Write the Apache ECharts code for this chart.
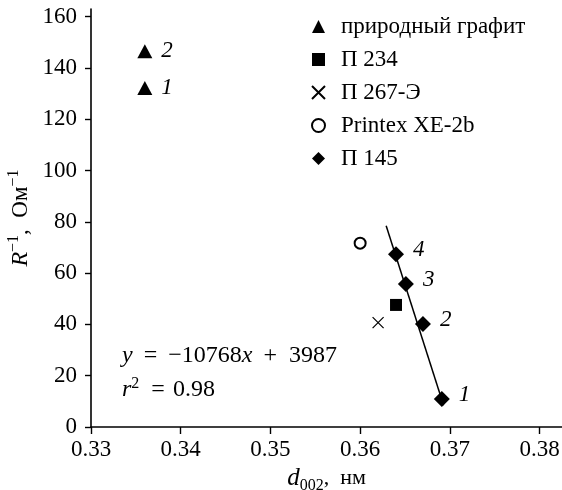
<!DOCTYPE html>
<html>
<head>
<meta charset="utf-8">
<script src="https://cdn.jsdelivr.net/npm/echarts@6/dist/echarts.min.js"></script>
<style>html,body{margin:0;padding:0;background:#fff;}#c{width:562px;height:490px;}</style>
</head>
<body>
<div id="c"></div>
<script>
const xTicks = [0.33, 0.34, 0.35, 0.36, 0.37, 0.38];
const yTicks = [0, 20, 40, 60, 80, 100, 120, 140, 160];

const graphiteX = [0.336, 0.336];
const graphiteY = [146.5, 132.2];
const graphiteLabels = ['2', '1'];

const p234X = [0.364];
const p234Y = [47.6];

const p267X = [0.362];
const p267Y = [40.7];

const printexX = [0.360];
const printexY = [71.7];

const p145X = [0.3691, 0.3670, 0.3651, 0.3640];
const p145Y = [10.9, 40.2, 55.8, 67.4];
const p145Labels = ['1', '2', '3', '4'];

const fitX = [0.3629, 0.3693];
const fitY = [78.5, 8.5];

const seriesNames = ['природный графит', 'П 234', 'П 267-Э', 'Printex XE-2b', 'П 145'];

const FONT = 'Liberation Serif';
const INK = '#000';

function pts(xs, ys) { return xs.map((x, i) => [x, ys[i]]); }

const chart = echarts.init(document.getElementById('c'), null, {renderer: 'canvas'});

const crossPath = 'path://M0,0L10,10M10,0L0,10';

const option = {
  backgroundColor: '#fff',
  animation: false,
  textStyle: {fontFamily: FONT, color: INK},
  grid: {left: 91, right: 0, top: 9, bottom: 63, containLabel: false, outerBoundsMode: 'none'},
  legend: {
    orient: 'vertical',
    left: 306,
    top: 10,
    itemWidth: 13,
    itemHeight: 13,
    itemGap: 10,
    textStyle: {fontFamily: FONT, fontSize: 23, color: INK, lineHeight: 22, padding: [0, 0, 0, 11]},
    data: seriesNames
  },
  xAxis: {
    type: 'value',
    min: 0.33,
    max: 0.3825,
    interval: 0.01,
    splitLine: {show: false},
    axisLine: {lineStyle: {color: INK, width: 1.6}},
    axisTick: {show: true, length: 7, inside: false, customValues: xTicks, lineStyle: {color: INK, width: 1.4}},
    axisLabel: {customValues: xTicks, fontFamily: FONT, fontSize: 23, color: INK, margin: 11,
      formatter: v => v.toFixed(2)},
    name: '{it|d}{sub|002}{n|,  нм}',
    nameLocation: 'middle',
    nameGap: 30,
    nameTextStyle: {
      rich: {
        it: {fontFamily: FONT, fontStyle: 'italic', fontSize: 25, color: INK, lineHeight: 30, verticalAlign: 'middle'},
        sub: {fontFamily: FONT, fontSize: 16, color: INK, verticalAlign: 'bottom', lineHeight: 30},
        n: {fontFamily: FONT, fontSize: 22, color: INK, lineHeight: 30, verticalAlign: 'middle'}
      }
    }
  },
  yAxis: {
    type: 'value',
    min: 0,
    max: 163,
    interval: 20,
    splitLine: {show: false},
    axisLine: {lineStyle: {color: INK, width: 1.6}},
    axisTick: {show: true, length: 6, inside: false, customValues: yTicks, lineStyle: {color: INK, width: 1.4}},
    axisLabel: {customValues: yTicks, fontFamily: FONT, fontSize: 23, color: INK, margin: 14},
    name: '{it|R}{sup|−1}{n|,  Ом}{sup|−1}',
    nameLocation: 'middle',
    nameGap: 55,
    nameMoveOverlap: false,
    nameRotate: 90,
    nameTextStyle: {
      rich: {
        it: {fontFamily: FONT, fontStyle: 'italic', fontSize: 24, color: INK, lineHeight: 30, verticalAlign: 'middle'},
        sup: {fontFamily: FONT, fontSize: 16, color: INK, verticalAlign: 'top', lineHeight: 30},
        n: {fontFamily: FONT, fontSize: 23, color: INK, lineHeight: 30, verticalAlign: 'middle'}
      }
    }
  },
  graphic: [
    {
      type: 'text', left: 122, top: 344, silent: true,
      style: {
        text: '{it|y}{op|=}{t|−10768}{it|x}{op2|+}{t|3987}',
        rich: {
          it: {fontFamily: FONT, fontStyle: 'italic', fontSize: 24, fill: INK, lineHeight: 28},
          t: {fontFamily: FONT, fontSize: 24, fill: INK, lineHeight: 28},
          op: {fontFamily: FONT, fontSize: 24, fill: INK, lineHeight: 28, padding: [0, 11, 0, 11]},
          op2: {fontFamily: FONT, fontSize: 24, fill: INK, lineHeight: 28, padding: [0, 12, 0, 11]}
        }
      }
    },
    {
      type: 'text', left: 122, top: 376, silent: true,
      style: {
        text: '{it|r}{sup|2}{op|=}{t|0.98}',
        rich: {
          it: {fontFamily: FONT, fontStyle: 'italic', fontSize: 24, fill: INK, lineHeight: 28, verticalAlign: 'middle'},
          sup: {fontFamily: FONT, fontSize: 16, fill: INK, lineHeight: 28, verticalAlign: 'top'},
          op: {fontFamily: FONT, fontSize: 24, fill: INK, lineHeight: 28, verticalAlign: 'middle', padding: [0, 8, 0, 12]},
          t: {fontFamily: FONT, fontSize: 24, fill: INK, lineHeight: 28, verticalAlign: 'middle'}
        }
      }
    }
  ],
  series: [
    {
      name: 'fit', type: 'line', data: pts(fitX, fitY), symbol: 'none',
      lineStyle: {color: INK, width: 1.5}, z: 1, silent: true
    },
    {
      name: seriesNames[0], type: 'scatter', symbol: 'triangle', symbolSize: [15, 14],
      itemStyle: {color: INK, opacity: 1},
      data: pts(graphiteX, graphiteY),
      label: {show: true, position: 'right', distance: 9,
        formatter: p => graphiteLabels[p.dataIndex],
        fontFamily: FONT, fontStyle: 'italic', fontSize: 23, color: INK},
      z: 3
    },
    {
      name: seriesNames[1], type: 'scatter', symbol: 'rect', symbolSize: 12,
      itemStyle: {color: INK, opacity: 1},
      data: pts(p234X, p234Y), z: 3
    },
    {
      name: seriesNames[2], type: 'scatter', symbol: crossPath, symbolSize: 11,
      itemStyle: {color: INK, borderColor: INK, borderWidth: 1.2, opacity: 1},
      data: pts(p267X, p267Y), z: 3
    },
    {
      name: seriesNames[3], type: 'scatter', symbol: 'emptyCircle', symbolSize: 11,
      itemStyle: {color: INK, borderColor: INK, borderWidth: 1.4, opacity: 1},
      data: pts(printexX, printexY), z: 3
    },
    {
      name: seriesNames[4], type: 'scatter', symbol: 'diamond', symbolSize: [16, 16],
      itemStyle: {color: INK, opacity: 1},
      data: pts(p145X, p145Y),
      label: {show: true, position: 'right', distance: 9, offset: [0, -4],
        formatter: p => p145Labels[p.dataIndex],
        fontFamily: FONT, fontStyle: 'italic', fontSize: 23, color: INK},
      z: 3
    }
  ]
};
chart.setOption(option);
</script>
</body>
</html>
